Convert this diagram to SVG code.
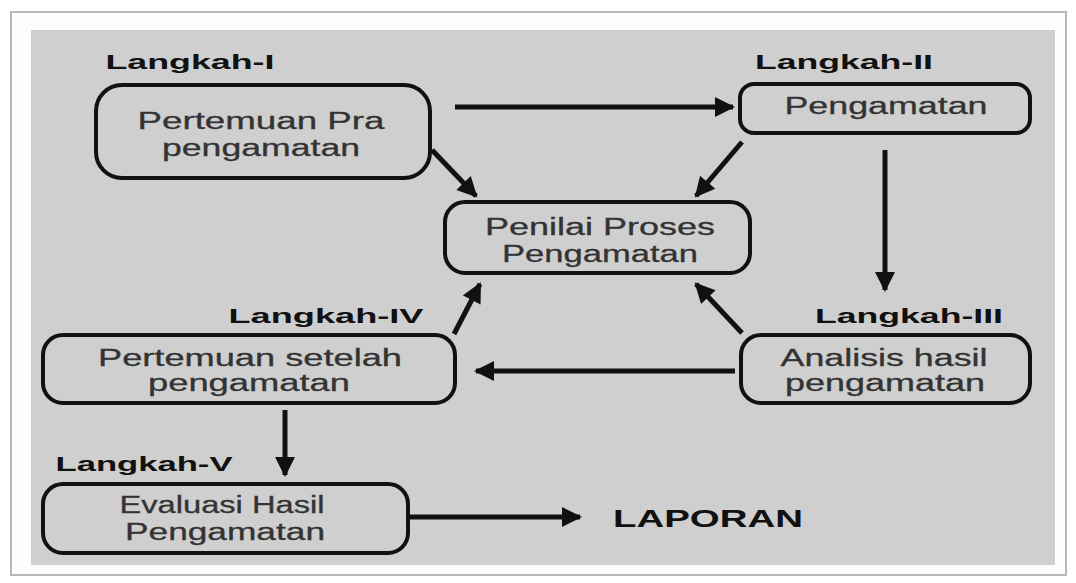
<svg xmlns="http://www.w3.org/2000/svg" width="1076" height="583" viewBox="0 0 1076 583">
<defs>
<marker id="ah" viewBox="0 0 10 10" refX="9" refY="5" markerWidth="4.2" markerHeight="4" markerUnits="strokeWidth" orient="auto">
<path d="M0,0 L10,5 L0,10 z" fill="#111"/>
</marker>
</defs>
<style>
.box{fill:none;stroke:#111;stroke-width:4}
.t{font-family:"Liberation Sans",Arial,sans-serif;font-size:23px;fill:#333;stroke:#333;stroke-width:0.3;text-anchor:middle}
.lab{font-family:"Liberation Sans",Arial,sans-serif;font-size:21px;font-weight:bold;fill:#111;text-anchor:middle}
.c{stroke:#111;stroke-width:5;fill:none;marker-end:url(#ah)}
</style>
<rect x="0" y="0" width="1076" height="583" fill="#ffffff"/>
<rect x="11" y="12" width="1055" height="563" fill="#fdfdfd" stroke="#b8b8b8" stroke-width="2"/>
<rect x="31" y="30" width="1024" height="535" fill="#cfcfcf"/>
<g id="n1">
<text class="lab" x="190" y="69" textLength="169" lengthAdjust="spacingAndGlyphs">Langkah-I</text>
<rect class="box" x="96" y="85" width="334" height="93" rx="26"/>
<text class="t" x="261" y="129" textLength="247" lengthAdjust="spacingAndGlyphs">Pertemuan Pra</text>
<text class="t" x="261" y="156" textLength="198" lengthAdjust="spacingAndGlyphs">pengamatan</text>
</g>
<g id="n2">
<text class="lab" x="844" y="69" textLength="178" lengthAdjust="spacingAndGlyphs">Langkah-II</text>
<rect class="box" x="740" y="84" width="290" height="49" rx="14"/>
<text class="t" x="886" y="114" textLength="203" lengthAdjust="spacingAndGlyphs">Pengamatan</text>
</g>
<g id="n3">
<rect class="box" x="445" y="202" width="305" height="71" rx="20"/>
<text class="t" x="600" y="235" textLength="230" lengthAdjust="spacingAndGlyphs">Penilai Proses</text>
<text class="t" x="600" y="262" textLength="196" lengthAdjust="spacingAndGlyphs">Pengamatan</text>
</g>
<g id="n4">
<text class="lab" x="909" y="323" textLength="188" lengthAdjust="spacingAndGlyphs">Langkah-III</text>
<rect class="box" x="741" y="335" width="289" height="68" rx="20"/>
<text class="t" x="884" y="366" textLength="207" lengthAdjust="spacingAndGlyphs">Analisis hasil</text>
<text class="t" x="885" y="391" textLength="200" lengthAdjust="spacingAndGlyphs">pengamatan</text>
</g>
<g id="n5">
<text class="lab" x="326" y="323" textLength="195" lengthAdjust="spacingAndGlyphs">Langkah-IV</text>
<rect class="box" x="43" y="335" width="412" height="68" rx="20"/>
<text class="t" x="250" y="366" textLength="304" lengthAdjust="spacingAndGlyphs">Pertemuan setelah</text>
<text class="t" x="249" y="391" textLength="202" lengthAdjust="spacingAndGlyphs">pengamatan</text>
</g>
<g id="n6">
<text class="lab" x="144" y="471" textLength="177" lengthAdjust="spacingAndGlyphs">Langkah-V</text>
<rect class="box" x="43" y="484" width="365" height="69" rx="20"/>
<text class="t" x="222" y="513" textLength="205" lengthAdjust="spacingAndGlyphs">Evaluasi Hasil</text>
<text class="t" x="225" y="540" textLength="200" lengthAdjust="spacingAndGlyphs">Pengamatan</text>
</g>
<g id="n7">
<text class="lab" x="708" y="527" style="font-size:23px" textLength="190" lengthAdjust="spacingAndGlyphs">LAPORAN</text>
</g>
<g id="connectors">
<line class="c" x1="455" y1="107" x2="733" y2="107"/>
<line class="c" x1="432" y1="150" x2="476" y2="196"/>
<line class="c" x1="742" y1="142" x2="696" y2="196"/>
<line class="c" x1="885" y1="150" x2="885" y2="290"/>
<line class="c" x1="742" y1="333" x2="696" y2="284"/>
<line class="c" x1="735" y1="371" x2="476" y2="371"/>
<line class="c" x1="454" y1="334" x2="480" y2="284"/>
<line class="c" x1="285" y1="410" x2="285" y2="475"/>
<line class="c" x1="408" y1="517" x2="580" y2="517"/>
</g>
</svg>
